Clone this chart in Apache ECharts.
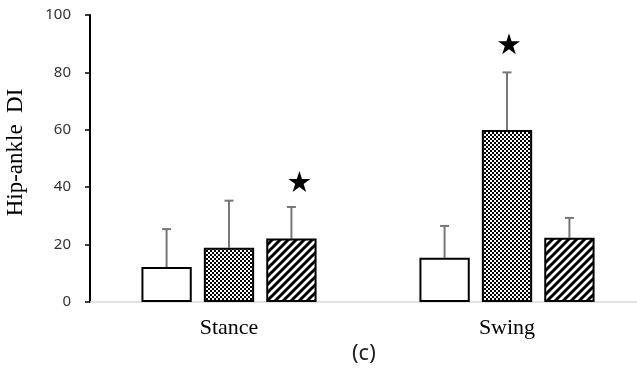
<!DOCTYPE html>
<html>
<head>
<meta charset="utf-8">
<style>
  html, body { margin: 0; padding: 0; background: #fff; }
  #chart { width: 637px; height: 382px; }
</style>
<script src="https://cdn.jsdelivr.net/npm/echarts@6/dist/echarts.min.js"></script>
</head>
<body>
<div id="chart"></div>
<script>
// Phases on the x axis
const categories = ['Stance', 'Swing'];

// Mean Hip-ankle DI per group, one entry per phase
const groupNames = ['Group 1', 'Group 2', 'Group 3'];
const meanGroup1 = [12.2, 15.4];
const meanGroup2 = [18.9, 59.9];
const meanGroup3 = [22.1, 22.4];

// Standard deviations (drawn upward only)
const sdGroup1 = [13.2, 11.1];
const sdGroup2 = [16.4, 20.1];
const sdGroup3 = [11.0, 6.9];

// Significance stars: [phase, group index, value]
const stars = [
  ['Stance', 2, 42],
  ['Swing', 1, 90]
];

const yTicks = { min: 0, max: 100, interval: 20 };

const means = [meanGroup1, meanGroup2, meanGroup3];
const sds = [sdGroup1, sdGroup2, sdGroup3];

const BAR_CATEGORY_GAP = 0.37;
const BAR_GAP = 0.24;

// Fill patterns
function checkerPattern() {
  const c = document.createElement('canvas');
  c.width = 4; c.height = 4;
  const ctx = c.getContext('2d');
  ctx.fillStyle = '#fff';
  ctx.fillRect(0, 0, 4, 4);
  ctx.fillStyle = '#000';
  ctx.fillRect(0, 0, 2, 2);
  ctx.fillRect(2, 2, 2, 2);
  return c;
}
function stripePattern() {
  const s = 8;
  const c = document.createElement('canvas');
  c.width = s; c.height = s;
  const ctx = c.getContext('2d');
  ctx.fillStyle = '#fff';
  ctx.fillRect(0, 0, s, s);
  ctx.strokeStyle = '#000';
  ctx.lineWidth = 3;
  ctx.beginPath();
  ctx.moveTo(-1, s + 1); ctx.lineTo(s + 1, -1);
  ctx.moveTo(-2, 2); ctx.lineTo(2, -2);
  ctx.moveTo(s - 2, s + 2); ctx.lineTo(s + 2, s - 2);
  ctx.stroke();
  return c;
}

const fills = [
  '#ffffff',
  { image: checkerPattern(), repeat: 'repeat' },
  { image: stripePattern(), repeat: 'repeat' }
];

const starPath = 'path://M50,0 L61.8,36.2 L100,36.2 L69.1,58.8 L80.9,95.1 L50,72.7 L19.1,95.1 L30.9,58.8 L0,36.2 L38.2,36.2 Z';

const series = [];
means.forEach((vals, gi) => {
  const starPts = stars.filter(s => s[1] === gi).map(s => ({
    coord: [s[0], s[2]],
    symbolOffset: [s[0] === 'Stance' ? 8 : 2, 0]
  }));
  series.push({
    name: groupNames[gi],
    type: 'bar',
    data: vals,
    barCategoryGap: (BAR_CATEGORY_GAP * 100) + '%',
    barGap: (BAR_GAP * 100) + '%',
    itemStyle: { color: fills[gi], borderColor: '#000', borderWidth: 2 },
    emphasis: { disabled: true },
    markPoint: starPts.length ? {
      symbol: starPath,
      symbolSize: 22,
      symbolKeepAspect: true,
      itemStyle: { color: '#000' },
      label: { show: false },
      data: starPts
    } : undefined,
    z: 2
  });
});

// Error bars, offset to sit over their bar within each category band
means.forEach((vals, gi) => {
  series.push({
    type: 'custom',
    name: groupNames[gi] + ' SD',
    data: vals.map((v, i) => [i, v, v + sds[gi][i]]),
    z: 1,
    renderItem: function (params, api) {
      const n = means.length;
      const band = api.size([1, 0])[0];
      const barW = band * (1 - BAR_CATEGORY_GAP) / (n + (n - 1) * BAR_GAP);
      const offset = (gi - (n - 1) / 2) * barW * (1 + BAR_GAP);
      const base = api.coord([api.value(0), api.value(1)]);
      const top = api.coord([api.value(0), api.value(2)]);
      const x = base[0] + offset;
      const capHalf = 4.5;
      const style = { stroke: '#777', lineWidth: 2 };
      return {
        type: 'group',
        children: [
          { type: 'line', shape: { x1: x, y1: base[1], x2: x, y2: top[1] }, style: style },
          { type: 'line', shape: { x1: x - capHalf, y1: top[1], x2: x + capHalf, y2: top[1] }, style: style }
        ]
      };
    }
  });
});

const chart = echarts.init(document.getElementById('chart'));
chart.setOption({
  animation: false,
  backgroundColor: '#fff',
  grid: { left: 90, right: -9, top: 15, bottom: 80, containLabel: false, outerBoundsMode: 'none' },
  xAxis: {
    type: 'category',
    data: categories,
    axisLine: { show: true, lineStyle: { color: '#d9d9d9', width: 1.5 } },
    axisTick: { show: false },
    axisLabel: {
      color: '#000',
      fontFamily: 'Liberation Serif',
      fontSize: 22,
      margin: 15
    }
  },
  yAxis: {
    type: 'value',
    min: yTicks.min,
    max: yTicks.max,
    interval: yTicks.interval,
    name: 'Hip-ankle  DI',
    nameLocation: 'middle',
    nameGap: 63,
    nameMoveOverlap: false,
    nameTextStyle: { color: '#000', fontFamily: 'Liberation Serif', fontSize: 23, padding: [0, 0, 0, 12] },
    axisLine: { show: true, lineStyle: { color: '#000', width: 2 } },
    axisTick: { show: true, inside: false, length: 5, lineStyle: { color: '#000', width: 1.5 } },
    splitLine: { show: false },
    axisLabel: { color: '#333', fontFamily: 'Noto Sans', fontSize: 15, margin: 19 }
  },
  graphic: [{
    type: 'text',
    left: 352,
    top: 343,
    style: { text: '(c)', font: '22px "Noto Sans"', fill: '#222' }
  }],
  series: series
});
</script>
</body>
</html>
